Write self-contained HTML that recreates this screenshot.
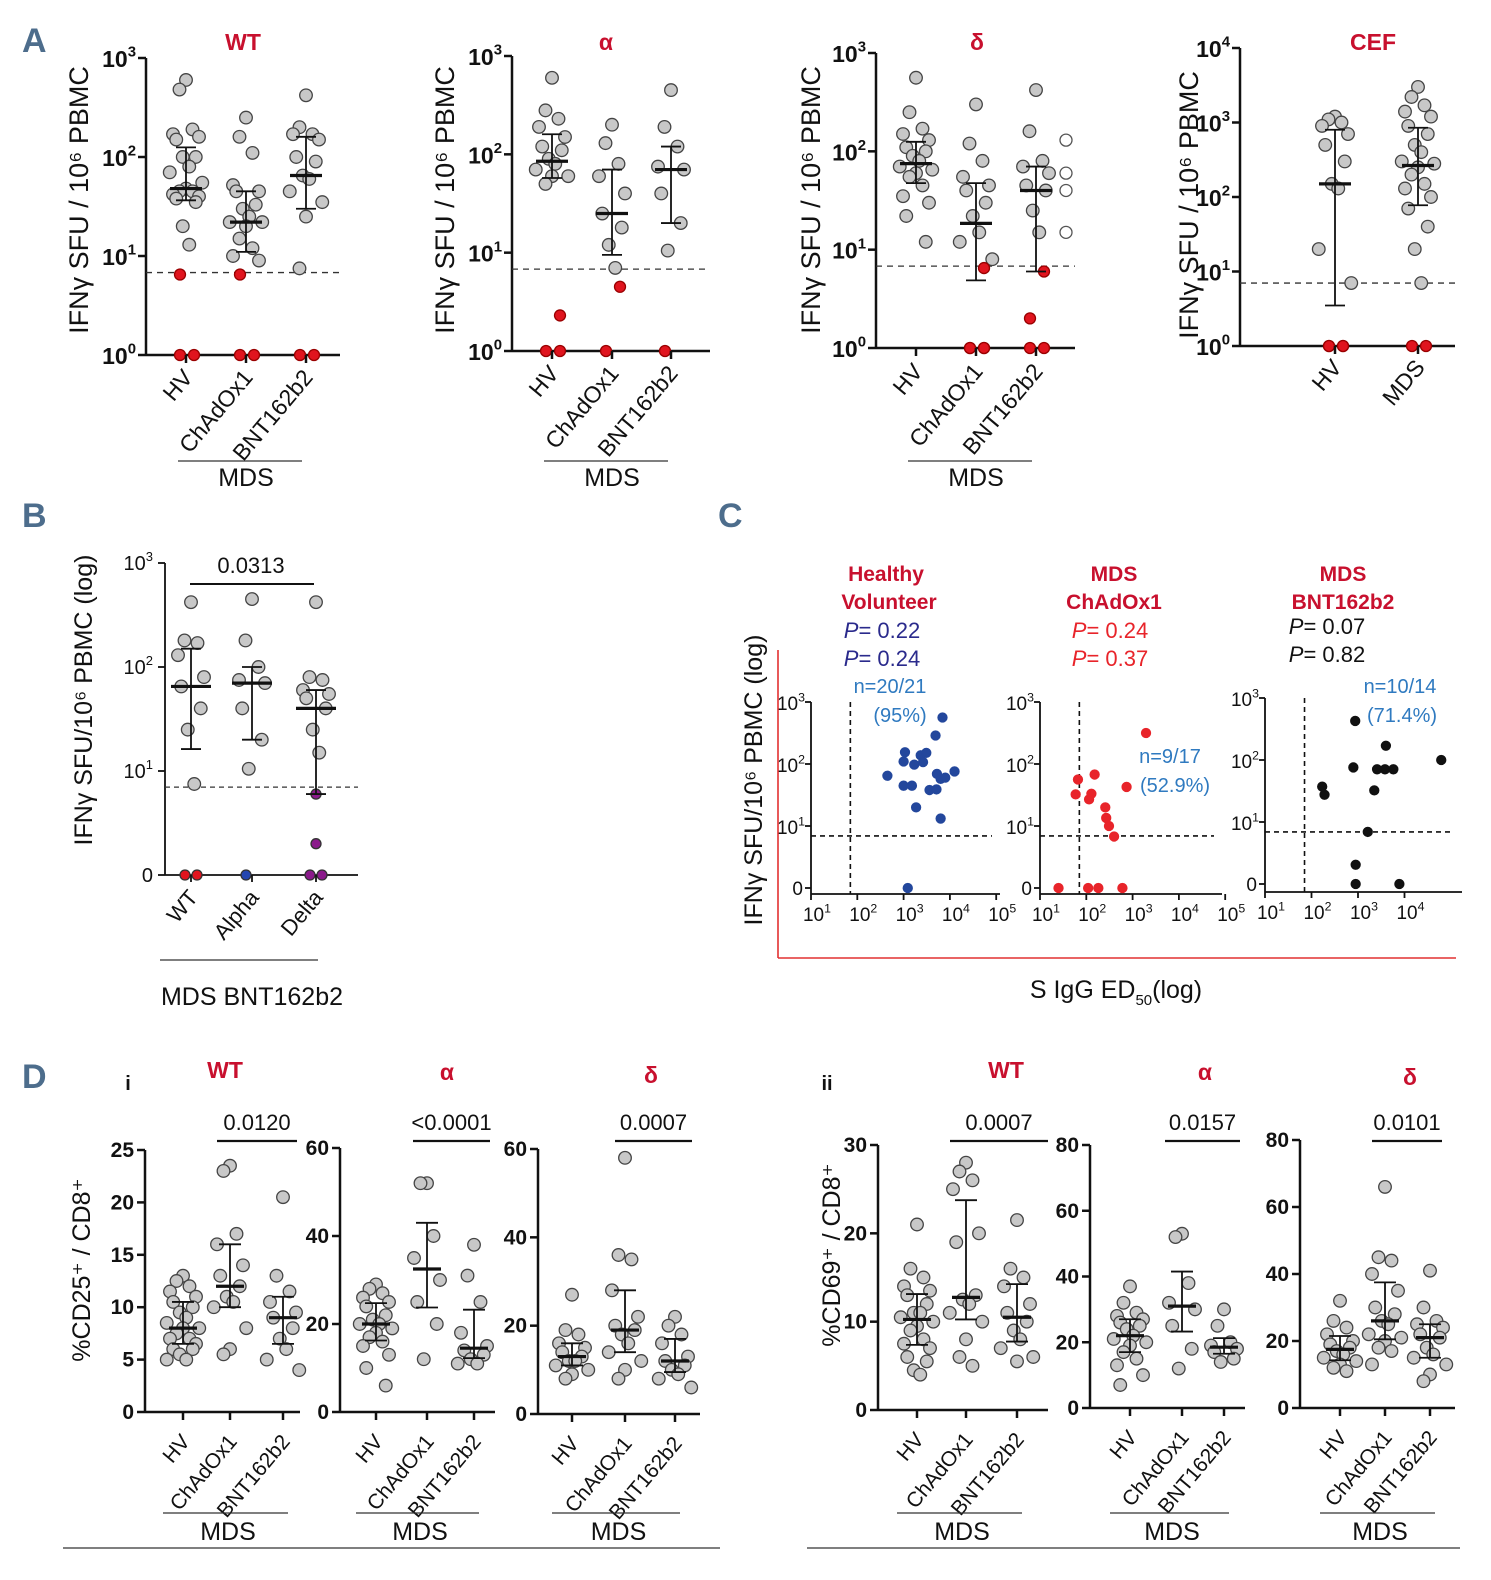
<!DOCTYPE html>
<html><head><meta charset="utf-8"><style>
html,body{margin:0;padding:0;background:#fff;}
svg{display:block;font-family:"Liberation Sans",sans-serif;}
</style></head><body>
<svg id="fig" width="1491" height="1580" viewBox="0 0 1491 1580" xmlns="http://www.w3.org/2000/svg"></svg>
<script>
// ---------- DATA ----------
const aWT_HV=[600,480,190,170,160,150,100,100,80,70,55,48,45,45,42,40,38,35,20,13,6.5,0,0];
const aWT_Ch=[250,160,110,52,45,45,33,30,25,22,22,20,15,12,10,9,6.5,0,0];
const aWT_BNT=[420,200,170,170,150,100,90,65,60,45,35,25,7.5,0,0];
const aAl_HV=[600,280,230,190,150,120,110,90,80,70,60,60,50,2.3,0,0];
const aAl_Ch=[200,130,80,60,40,25,18,12,7,4.5,0];
const aAl_BNT=[450,190,120,75,70,40,20,10.5,0];
const aDe_HV=[560,250,170,150,130,110,100,90,80,70,65,60,55,45,35,30,22,12];
const aDe_Ch=[300,120,80,55,45,40,30,22,15,12,8,6.5,0,0,0,0];
const aDe_BNT=[420,160,80,70,60,45,40,25,15,6,2,0,0];
const aDe_BNTopen=[130,60,40,15];
const aCEF_HV=[1200,1100,1000,900,700,500,300,150,130,20,7,0,0,0,0];
const aCEF_MDS=[3000,2200,1700,1400,1200,900,700,500,400,300,280,250,200,150,130,100,70,40,20,7,0,0];
const bWT=[420,180,170,130,80,65,40,25,7.5,0,0];
const bAlpha=[450,180,100,75,70,40,20,10.5,0];
const bDelta=[420,80,75,60,55,50,40,25,15,6,2,0,0];
const c1x=[2.65,3.0,3.03,3.23,3.37,3.42,3.49,3.69,3.84,3.72,3.8,3.9,4.1,3.0,3.18,3.56,3.71,3.27,3.8,3.09];
const c1y=[1.81,2.04,2.19,1.99,2.14,2.03,2.18,2.46,2.75,1.84,1.76,1.78,1.88,1.65,1.65,1.58,1.59,1.3,1.12,0];
const c2x=[1.82,2.18,1.77,2.11,2.06,2.41,2.43,2.49,2.6,2.87,3.29,1.4,2.04,2.26,2.78];
const c2y=[1.75,1.83,1.51,1.52,1.43,1.3,1.13,1.0,0.83,1.63,2.5,0,0,0,0];
const c3x=[2.23,2.28,2.9,2.94,3.35,3.41,3.58,3.76,3.6,4.79,3.21,2.95,2.95,3.89];
const c3y=[1.57,1.44,1.88,2.63,1.51,1.85,1.85,1.85,2.23,2.0,0.84,0.31,0,0];
const d1HV=[13,12.5,12,11.5,11,10.5,10,9.5,9,8.5,8,8,7.5,7,7,6.5,6,6,5.5,5,5];
const d1Ch=[23.5,23,17,16,14,13,12,11,10.5,10,8,6,5.5];
const d1BNT=[20.5,13,11.5,10.5,9.5,9,8,7,6,5,4];
const d2HV=[29,28,27,26,25,24,22,21,20,20,19,18,17,16,15,13,10,6];
const d2Ch=[52,52,40,35,30,25,20,12];
const d2BNT=[38,31,25,18,15,14,13,12,11,11];
const d3HV=[27,19,18,16,15,14,13,12,12,11,10,9,8];
const d3Ch=[58,36,35,28,22,20,19,18,16,14,12,10,8];
const d3BNT=[22,20,18,16,13,12,11,10,9,8,6];
const d4HV=[21,16,15,14,13.5,13,12,11,11,10.5,10,9.5,9,8,7.5,7,6,5.5,4.5,4];
const d4Ch=[28,27,26,25,20,19,13,12.5,12,11,10,8,6,5];
const d4BNT=[21.5,16,15,14,12,11,10,9,8,7,6,5.5];
const d5HV=[37,32,29,28,27,26,25,24,22,21,20,19,17,15,13,10,7];
const d5Ch=[53,52,38,32,30,25,18,12];
const d5BNT=[30,25,20,19,18,17,15,14];
const d6HV=[32,26,24,22,20,19,18,17,16,15,14,13,12,11];
const d6Ch=[66,45,44,40,35,30,28,26,25,22,21,20,18,17,13];
const d6BNT=[41,30,26,25,24,22,21,18,16,15,13,10,8];
const catsMDS=["HV","ChAdOx1","BNT162b2"];
const pVals=["0.0120","<0.0001","0.0007","0.0007","0.0157","0.0101"];

// ---------- HELPERS ----------
const NS="http://www.w3.org/2000/svg";
const svg=document.getElementById('fig');
function mk(tag,attrs,parent,txt){const e=document.createElementNS(NS,tag);for(const k in attrs)e.setAttribute(k,attrs[k]);if(txt!==undefined)e.textContent=txt;(parent||svg).appendChild(e);return e;}
function line(x1,y1,x2,y2,w,dash,col,name){const l=mk('line',{x1,y1,x2,y2,stroke:col||'#111','stroke-width':w||2});if(dash)l.setAttribute('stroke-dasharray',dash);

return l;}
function text(x,y,s,size,opts,name){opts=opts||{};const t=mk('text',{x,y,'font-size':size,'text-anchor':opts.anchor||'middle',fill:opts.fill||'#111','font-weight':opts.bold?'bold':'normal'},svg,s);if(opts.rot)t.setAttribute('transform',`rotate(${opts.rot} ${x} ${y})`);if(opts.family)t.setAttribute('font-family',opts.family);

return t;}
function pow(x,y,base,exp,size,bold,anchor){const t=mk('text',{x,y,'font-size':size,'text-anchor':anchor||'end',fill:'#111','font-weight':bold?'bold':'normal'});t.textContent=base;mk('tspan',{dy:-size*0.45,'font-size':size*0.65},t,exp);

return t;}
function dot(cx,cy,r,fill,stroke,name){const c=mk('circle',{cx,cy,r,fill,stroke:stroke||'#333','stroke-width':1.3});

return c;}
function jitter(i){const k=[0,-1,1,-2,2,-1.5,1.5,-0.5,0.5,-2.5,2.5];return k[i%k.length]*6.5;}
function quant(arr,q){const s=[...arr].sort((a,b)=>a-b);const p=(s.length-1)*q;const lo=Math.floor(p),hi=Math.ceil(p);return s[lo]+(s[hi]-s[lo])*(p-lo);}
function summary(cx,yf,arr,mw,cw,name){const med=yf(quant(arr,0.5)),q1=yf(quant(arr,0.25)),q3=yf(quant(arr,0.75));
line(cx,q1,cx,q3,1.8,null,'#111',name+'-iqr');line(cx-cw,q1,cx+cw,q1,1.8,null,'#111',name+'-q1');line(cx-cw,q3,cx+cw,q3,1.8,null,'#111',name+'-q3');line(cx-mw,med,cx+mw,med,3.2,null,'#111',name+'-median');}
function rotLabels(xs,y,labels,size){labels.forEach((s,i)=>{text(xs[i]+8,y,s,size,{anchor:'end',rot:-50},'x-label-'+s.toLowerCase());});}

// ---------- PANEL A ----------
function logPanel(cfg){
 const ax=cfg.ax,tp=cfg.top,bot=cfg.bot,dec=cfg.dec,xEnd=cfg.xEnd,cats=cfg.cats,series=cfg.series,thr=cfg.thr;
 const yf=v=>bot-(v<=1?0:Math.log10(v))*(bot-tp)/dec;
 line(ax,tp,ax,bot,2.5);line(ax,bot,xEnd,bot,2.5);
 for(let d=0;d<=dec;d++){const y=bot-d*(bot-tp)/dec;line(ax-8,y,ax,y,2.5,null,'#111','y-tick');pow(ax-10,y+9,'10',String(d),23,true);}
 line(ax,yf(thr),xEnd,yf(thr),1.3,'6,5','#333','threshold-line');
 series.forEach((arr,si)=>{const cx=cats[si];
  arr.forEach((v,i)=>{const y=yf(v);const zero=v<thr;dot(cx+(zero?(i%2?8:-6):jitter(i)),y,zero?5.5:6.3,zero?'#e0141e':'#c8c8c8',zero?'#900':'#444','point-'+si);});
  summary(cx,yf,arr,16,10,'series-'+si);
  line(cx,bot,cx,bot+8,2.5,null,'#111','x-tick');});
 text(cfg.tx,50,cfg.title,23,{bold:true,fill:'#c8102e'},'panel-title');
 return yf;
}
logPanel({ax:146,top:58,bot:355,dec:3,xEnd:340,cats:[186,246,306],series:[aWT_HV,aWT_Ch,aWT_BNT],thr:6.8,title:'WT',tx:243});
logPanel({ax:512,top:56,bot:351,dec:3,xEnd:710,cats:[552,612,671],series:[aAl_HV,aAl_Ch,aAl_BNT],thr:6.8,title:'α',tx:606});
const yA3=logPanel({ax:876,top:53,bot:348,dec:3,xEnd:1075,cats:[916,976,1036],series:[aDe_HV,aDe_Ch,aDe_BNT],thr:6.8,title:'δ',tx:977});
aDe_BNTopen.forEach((v)=>{dot(1066,yA3(v),6,'#fff','#555','open-point');});
logPanel({ax:1240,top:48,bot:346,dec:4,xEnd:1455,cats:[1335,1418],series:[aCEF_HV,aCEF_MDS],thr:7,title:'CEF',tx:1373});
[[88,200],[454,200],[820,200],[1198,205]].forEach(p=>{text(p[0],p[1],'IFNγ SFU / 10⁶ PBMC',27,{rot:-90},'y-axis-title');});
rotLabels([186,246,306],378,catsMDS,23);
rotLabels([552,612,671],374,catsMDS,23);
rotLabels([916,976,1036],372,catsMDS,23);
rotLabels([1335,1418],368,["HV","MDS"],23);
[[178,302,246],[544,668,612],[908,1032,976]].forEach(g=>{line(g[0],461,g[1],461,1.3,null,'#333','mds-group-line');text(g[2],486,'MDS',25,{},'mds-group-label');});

// ---------- PANEL LETTERS ----------
[['A',22,52],['B',22,527],['C',718,527],['D',22,1088]].forEach(l=>{text(l[1],l[2],l[0],34,{anchor:'start',bold:true,fill:'#4d6d8c',family:'"Liberation Sans Narrow","Liberation Sans",sans-serif'},'panel-letter-'+l[0].toLowerCase());});

// ---------- PANEL B ----------
(function(){
 const ax=165,tp=563,bot=875,dec=3,xEnd=358,cats=[191,252,316];
 const yf=v=>bot-(v<=1?0:Math.log10(v))*(bot-tp)/dec;
 line(ax,tp,ax,bot,1.8);line(ax,bot,xEnd,bot,1.8);
 for(let d=0;d<=dec;d++){const y=bot-d*(bot-tp)/dec;line(ax-7,y,ax,y,1.8,null,'#111','y-tick');if(d===0)text(ax-12,y+7,'0',20,{anchor:'end'},'tick-label');else pow(ax-12,y+7,'10',String(d),20,false);}
 line(ax,yf(7),xEnd,yf(7),1.2,'5,4','#333','threshold-line');
 const cols=['#e0141e','#2446b0','#8b1a8b'];
 [bWT,bAlpha,bDelta].forEach((arr,si)=>{arr.forEach((v,i)=>{const low=v<7;dot(cats[si]+(low&&v===0?(i%2?6:-6):(low?0:jitter(i))),yf(v),low?5:6.3,low?cols[si]:'#c8c8c8',low?'#333':'#444','point-b-'+si);});summary(cats[si],yf,arr,20,10,'b-series-'+si);line(cats[si],bot,cats[si],bot+7,1.8,null,'#111','x-tick');});
 line(190,584,314,584,2,null,'#111','significance-bracket');text(251,573,'0.0313',22,{},'p-value');
 text(92,700,'IFNγ SFU/10⁶ PBMC (log)',25,{rot:-90},'y-axis-title');
 rotLabels(cats,898,['WT','Alpha','Delta'],22);
 line(160,960,318,960,1.3,null,'#333','group-line');text(252,1005,'MDS BNT162b2',25,{},'group-label');
})();

// ---------- PANEL C ----------
function scatterC(cfg){
 const ax=cfg.ax,bot=cfg.bot,xdec=cfg.xdec,y0=cfg.ydec0,xEnd=cfg.xEnd,nx=cfg.nx,xs=cfg.xs,ys=cfg.ys,col=cfg.col;
 const xf=l=>ax+(l-1)*xdec, yf=l=>y0-l*62;
 line(ax,yf(3),ax,bot,1.8);line(ax,bot,xEnd,bot,1.8);
 for(let d=0;d<=3;d++){const y=yf(d);line(ax-6,y,ax,y,1.8,null,'#111','y-tick');if(d===0)text(ax-8,y+7,'0',19,{anchor:'end'},'tick-label');else pow(ax-6,y+8,'10',String(d),19,false);}
 for(let d=1;d<=nx;d++){const x=xf(d);line(x,bot,x,bot+6,1.8,null,'#111','x-tick');pow(x+6,bot+27,'10',String(d),19,false,'middle');}
 line(xf(cfg.dashX),yf(3),xf(cfg.dashX),bot,1.6,'5,4','#111','cutoff-vertical');
 line(ax,yf(cfg.dashY),xEnd-8,yf(cfg.dashY),1.6,'5,4','#111','cutoff-horizontal');
 xs.forEach((x,i)=>{dot(xf(x),yf(ys[i]),4.5,col,col,'scatter-point');});
}
scatterC({ax:811,bot:894,xdec:46.3,ydec0:888,xEnd:1000,nx:5,xs:c1x,ys:c1y,col:'#23479c',dashX:1.85,dashY:0.84});
scatterC({ax:1040,bot:894,xdec:46.3,ydec0:888,xEnd:1222,nx:5,xs:c2x,ys:c2y,col:'#e8242a',dashX:1.85,dashY:0.84});
scatterC({ax:1265,bot:892,xdec:46.5,ydec0:884,xEnd:1462,nx:4,xs:c3x,ys:c3y,col:'#111',dashX:1.85,dashY:0.84});
line(778,650,778,958,1.6,null,'#e23030','frame-left');line(778,958,1456,958,1.6,null,'#e23030','frame-bottom');
text(762,780,'IFNγ SFU/10⁶ PBMC (log)',25,{rot:-90},'y-axis-title');
(function(){const t=text(1116,998,'S IgG ED',25,{},'x-axis-title');mk('tspan',{dy:7,'font-size':15},t,'50');mk('tspan',{dy:-7,'font-size':25},t,'(log)');})();
text(886,581,'Healthy',21,{bold:true,fill:'#c8102e'},'subplot-title');text(889,609,'Volunteer',21,{bold:true,fill:'#c8102e'},'subplot-title');
text(1114,581,'MDS',21,{bold:true,fill:'#c8102e'},'subplot-title');text(1114,609,'ChAdOx1',21,{bold:true,fill:'#c8102e'},'subplot-title');
text(1343,581,'MDS',21,{bold:true,fill:'#c8102e'},'subplot-title');text(1343,609,'BNT162b2',21,{bold:true,fill:'#c8102e'},'subplot-title');
function pline(x,y,val,col){const t=mk('text',{x,y,'font-size':22,'text-anchor':'middle',fill:col});mk('tspan',{'font-style':'italic'},t,'P');mk('tspan',{},t,'= '+val);

}
pline(882,638,'0.22','#2a2a8c');pline(882,666,'0.24','#2a2a8c');
pline(1110,638,'0.24','#e8242a');pline(1110,666,'0.37','#e8242a');
pline(1327,634,'0.07','#111');pline(1327,662,'0.82','#111');
text(890,693,'n=20/21',20,{fill:'#2f7ac0'},'n-label');text(900,722,'(95%)',20,{fill:'#2f7ac0'},'n-label');
text(1170,763,'n=9/17',20,{fill:'#2f7ac0'},'n-label');text(1175,792,'(52.9%)',20,{fill:'#2f7ac0'},'n-label');
text(1400,693,'n=10/14',20,{fill:'#2f7ac0'},'n-label');text(1402,722,'(71.4%)',20,{fill:'#2f7ac0'},'n-label');

// ---------- PANEL D ----------
function linPanel(cfg){
 const ax=cfg.ax,tp=cfg.top,bot=cfg.bot,max=cfg.max,step=cfg.step,xEnd=cfg.xEnd,cats=cfg.cats,series=cfg.series;
 const yf=v=>bot-v*(bot-tp)/max;
 line(ax,tp,ax,bot,2.5);line(ax,bot,xEnd,bot,2.5);
 for(let v=0;v<=max;v+=step){const y=yf(v);line(ax-8,y,ax,y,2.5,null,'#111','y-tick');text(ax-11,y+7,String(v),21,{anchor:'end',bold:true},'tick-label');}
 series.forEach((arr,si)=>{arr.forEach((v,i)=>{dot(cats[si]+jitter(i),yf(v),6.3,'#c8c8c8','#444','point-'+si);});summary(cats[si],yf,arr,14,11,'d-series-'+si);line(cats[si],bot,cats[si],bot+8,2.5,null,'#111','x-tick');});
 line(cfg.bx1,1141,cfg.bx2,1141,2.2,null,'#111','significance-bracket');text((cfg.bx1+cfg.bx2)/2,1130,pVals[cfg.pi],22,{},'p-value');
 text(cfg.tx,cfg.ty,cfg.title,23,{bold:true,fill:'#c8102e'},'panel-title');
 rotLabels(cats,bot+30,catsMDS,21);
 line(cats[0]-20,1513,cats[2]+5,1513,1.3,null,'#333','mds-group-line');text((cats[0]+cats[2])/2-5,1540,'MDS',25,{},'mds-group-label');
}
linPanel({ax:145,top:1150,bot:1412,max:25,step:5,xEnd:300,cats:[183,230,283],series:[d1HV,d1Ch,d1BNT],title:'WT',tx:225,ty:1078,pi:0,bx1:217,bx2:297});
linPanel({ax:340,top:1148,bot:1412,max:60,step:20,xEnd:495,cats:[376,427,474],series:[d2HV,d2Ch,d2BNT],title:'α',tx:447,ty:1080,pi:1,bx1:413,bx2:490});
linPanel({ax:538,top:1149,bot:1414,max:60,step:20,xEnd:700,cats:[572,625,675],series:[d3HV,d3Ch,d3BNT],title:'δ',tx:651,ty:1083,pi:2,bx1:615,bx2:692});
linPanel({ax:878,top:1145,bot:1410,max:30,step:10,xEnd:1048,cats:[917,966,1017],series:[d4HV,d4Ch,d4BNT],title:'WT',tx:1006,ty:1078,pi:3,bx1:950,bx2:1048});
linPanel({ax:1090,top:1145,bot:1408,max:80,step:20,xEnd:1245,cats:[1130,1182,1224],series:[d5HV,d5Ch,d5BNT],title:'α',tx:1205,ty:1080,pi:4,bx1:1165,bx2:1240});
linPanel({ax:1300,top:1140,bot:1408,max:80,step:20,xEnd:1455,cats:[1340,1385,1430],series:[d6HV,d6Ch,d6BNT],title:'δ',tx:1410,ty:1085,pi:5,bx1:1372,bx2:1442});
text(128,1090,'i',20,{bold:true},'subpanel-i');text(827,1090,'ii',20,{bold:true},'subpanel-ii');
text(90,1270,'%CD25⁺ / CD8⁺',25,{rot:-90},'y-axis-title');
text(840,1255,'%CD69⁺ / CD8⁺',25,{rot:-90},'y-axis-title');
line(63,1548,720,1548,1.3,null,'#333','footer-line');line(807,1548,1460,1548,1.3,null,'#333','footer-line');
</script>
</body></html>
